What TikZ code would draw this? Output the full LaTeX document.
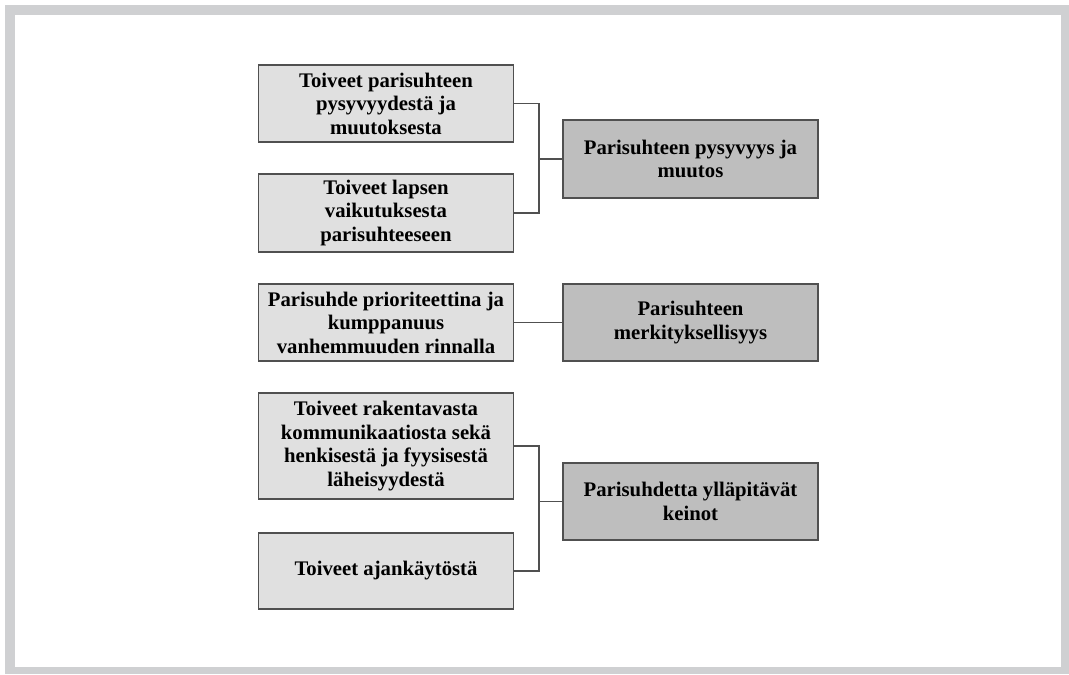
\documentclass[tikz,border=0pt]{standalone}
\usepackage{fontspec}
\setmainfont{Liberation Serif}
\usepackage{tikz}
\usetikzlibrary{positioning}
\usetikzlibrary{calc}
\definecolor{framegray}{RGB}{207,208,210}
\definecolor{subfill}{RGB}{224,224,224}
\definecolor{themefill}{RGB}{190,190,190}
\definecolor{edgegray}{RGB}{80,80,80}

\tikzset{
    subbox/.style={draw=edgegray, line width=0.9pt, fill=subfill, minimum width=255*0.02cm,
        align=center, inner sep=0pt,
        font=\fontsize{11.8}{13.4}\selectfont\bfseries},
    themebox/.style={subbox, fill=themefill, minimum height=78*0.02cm},
    link/.style={draw=edgegray, line width=0.6pt}
}

\begin{document}
\begin{tikzpicture}[x=0.02cm, y=-0.02cm]
    % Frame
    \useasboundingbox (0,0) rectangle (1069,674);
    \fill[framegray] (5,5) rectangle (1069,674);
    \fill[white] (15,15) rectangle (1061,667);

    % Group 1
    \node[subbox, minimum height=77*0.02cm] (w1) at (386, 103.5)
        {Toiveet parisuhteen\\ pysyvyydestä ja\\ muutoksesta};
    \node[subbox, minimum height=78*0.02cm] (w2) at (386, 213)
        {Toiveet lapsen\\ vaikutuksesta\\ parisuhteeseen};
    \node[themebox] (r1) at (690.5, 159) {Parisuhteen pysyvyys ja\\ muutos};
    \coordinate (j1) at (539, 159);
    \draw[link] (w1.east) -| (j1) -- (r1.west);
    \draw[link] (w2.east) -| (j1);

    % Group 2
    \node[subbox, minimum height=77*0.02cm] (w3) at (386, 322.5)
        {Parisuhde prioriteettina ja\\ kumppanuus\\ vanhemmuuden rinnalla};
    \node[themebox, minimum height=77*0.02cm] (r2) at (690.5, 322.5)
        {Parisuhteen\\ merkityksellisyys};
    \draw[link] (w3) -- (r2);

    % Group 3
    \node[subbox, minimum height=106*0.02cm] (w4) at (386, 446)
        {Toiveet rakentavasta\\ kommunikaatiosta sekä\\ henkisestä ja fyysisestä\\ läheisyydestä};
    \node[subbox, minimum height=76*0.02cm] (w5) at (386, 571)
        {Toiveet ajankäytöstä};
    \node[themebox, minimum height=77*0.02cm] (r3) at (690.5, 501.5)
        {Parisuhdetta ylläpitävät\\ keinot};
    \coordinate (j3) at (539, 501.5);
    \draw[link] (w4.east) -| (j3) -- (r3.west);
    \draw[link] (w5.east) -| (j3);
\end{tikzpicture}
\end{document}
